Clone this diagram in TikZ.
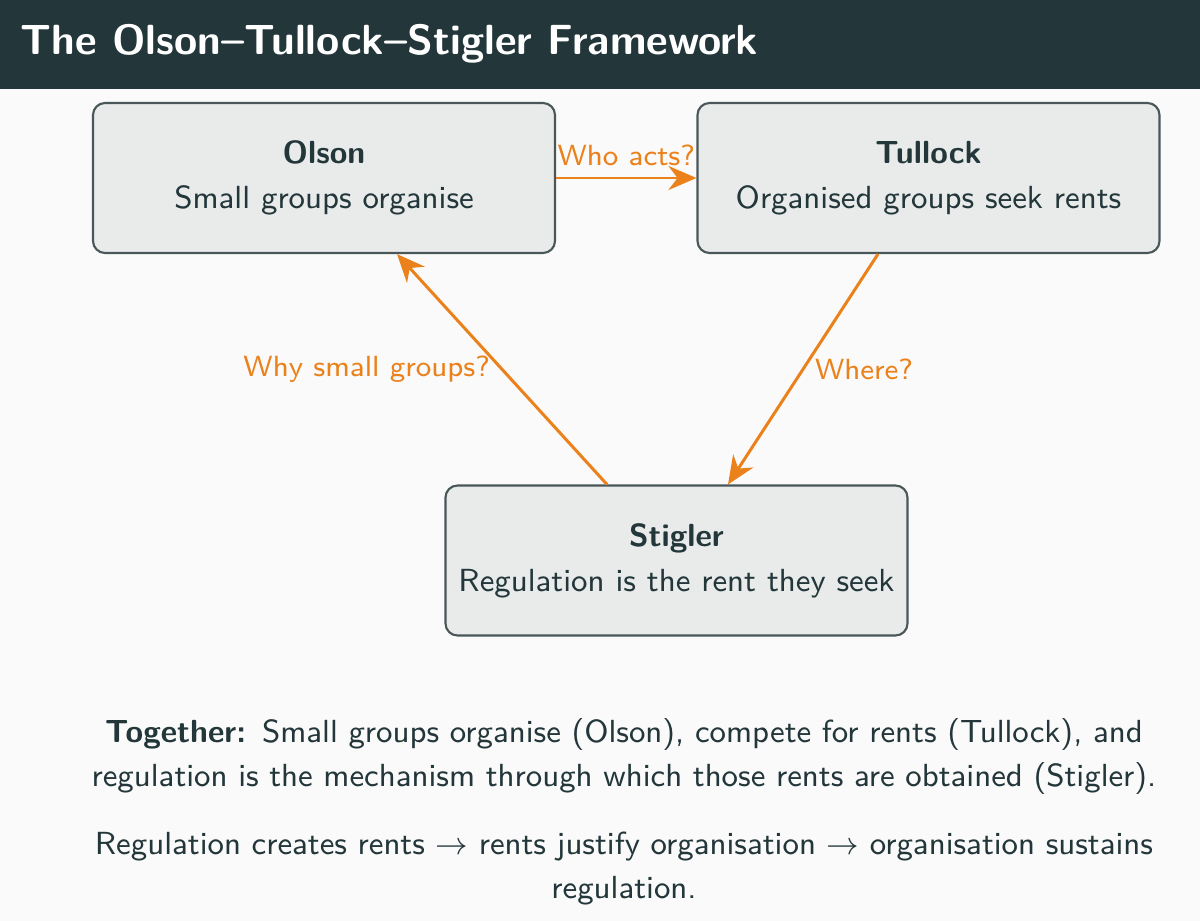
\documentclass[tikz,border=0pt]{standalone}
\usepackage{xcolor}
\usepackage{amsmath,amssymb}
\usetikzlibrary{positioning, arrows.meta, calc}
\definecolor{mDarkTeal}{HTML}{23373B}
\definecolor{mOrange}{HTML}{EB811B}
\definecolor{mBack}{HTML}{FAFAFA}
\definecolor{mCell}{HTML}{E9EBEB}
\definecolor{mEdge}{HTML}{4A5759}

\begin{document}
\begin{tikzpicture}[
    % GLOBAL CFG
    font=\sffamily\fontsize{9.1}{12.8}\selectfont,
    text=mDarkTeal,
    >={Stealth[length=2.8mm, width=2.4mm]},
    % Styles
    cell/.style={% For the three boxes
        rectangle,
        rounded corners=1.2mm,
        draw=mEdge,
        fill=mCell,
        line width=.6pt,
        align=center,
        minimum width=4.62cm,
        minimum height=1.5cm,
        },
    mylabel/.style={% Orange texts on the arrows
        text=mOrange,
        inner sep=3pt,
        font=\sffamily\fontsize{8.3}{10}\selectfont,
        },
    ArrowC1/.style={% Orange connectors
        ->,
        draw=mOrange,
        line width=.85pt,
        },
    ]

    % Page and title bar
    \useasboundingbox (0,0) rectangle (12,-9.21);
    \fill [mBack] (0,0) rectangle (12,-9.21);
    \fill [mDarkTeal] (0,0) rectangle (12,-0.89);
    \node [anchor=west, text=white, inner sep=0pt,
        font=\sffamily\bfseries\fontsize{12}{14}\selectfont] (title) at (0.2,-0.44)
        {The Olson--Tullock--Stigler Framework};

    % Draw the cells
    \node [cell] (olson) at (3.24,-1.78) {\textbf{Olson}\\ Small groups organise};
    \node [cell] (tullock) at (9.285,-1.78) {\textbf{Tullock}\\ Organised groups seek rents};
    \node [cell] (stigler) at (6.765,-5.605) {\textbf{Stigler}\\ Regulation is the rent they seek};

    % End points of the slanted arrows
    \coordinate (t1) at ([xshift=-0.505cm]tullock.south);
    \coordinate (s1) at ([xshift=0.515cm]stigler.north);
    \coordinate (s2) at ([xshift=-0.695cm]stigler.north);
    \coordinate (o1) at ([xshift=0.73cm]olson.south);

    % Connecting all
    \draw [ArrowC1] (olson) -- (tullock)
        node [mylabel, midway, above] {Who acts?};
    \draw [ArrowC1] (t1) -- (s1)
        node [mylabel, midway, right] {Where?};
    \draw [ArrowC1] (s2) -- (o1)
        node [mylabel, midway, left] {Why small groups?};

    % Summary below
    \node [anchor=north, align=center, inner sep=0pt, text width=11cm,
        font=\sffamily\fontsize{9.1}{12.6}\selectfont] (note) at (6.24,-7.18)
        {\textbf{Together:} Small groups organise (Olson), compete for rents (Tullock), and\\
         regulation is the mechanism through which those rents are obtained (Stigler).\\[6.5pt]
         Regulation creates rents $\rightarrow$ rents justify organisation $\rightarrow$ organisation sustains\\
         regulation.};
\end{tikzpicture}
\end{document}
